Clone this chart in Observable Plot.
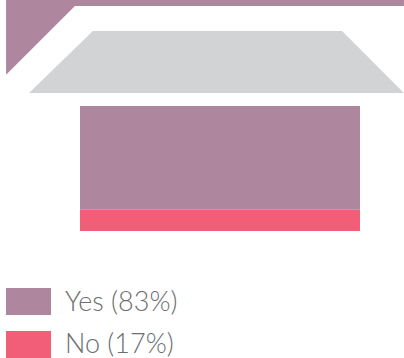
<!DOCTYPE html>
<html>
<head>
<meta charset="utf-8">
<script src="https://cdn.jsdelivr.net/npm/d3@7"></script>
<script src="https://cdn.jsdelivr.net/npm/@observablehq/plot@0.6"></script>
<style>
  html, body { margin: 0; padding: 0; background: #fff; overflow: hidden; }
  svg { display: block; }
  .legend { position: relative; height: 70px; font-family: Lato, sans-serif; font-weight: 300; font-size: 27px; color: #6d6e71; }
  .row { position: absolute; left: 6px; height: 27px; display: flex; align-items: center; }
  .row span { position: relative; top: -1px; }
  .row + .row span { top: -2px; }
  .swatch { width: 45px; height: 27px; margin-right: 14px; flex: none; }
</style>
</head>
<body>
<div id="chart"></div>
<script>
// Answer shares and their colours
const answers = ["No", "Yes"];
const shares = [17, 83];
const answerColors = ["#f25d78", "#ae879e"];
const legendOrder = [1, 0];

// Final funnel stage: answer bar spans the full 0-100 width
const barLeft = 0;
const barRight = 100;

// Funnel outline of the stage above the bar (grey)
const greyLevels = [160, 110.4];
const greyLeft = [4.6, -18.2];
const greyRight = [93.6, 115.7];

// Upper stage, running off the top of the frame
const upperLevels = [184.8, 180, 180, 125];
const upperLeft = [-26.4, -26.4, -26.4, -26.4];
const upperRight = [115.7, 115.7, -1.8, -26.4];

const svgHeight = 288;
const bars = answers.map((name, i) => ({name, share: shares[i]}));
const zip = (levels, left, right) => levels.map((y, i) => ({y, x1: left[i], x2: right[i]}));

const plot = Plot.plot({
  width: 404,
  height: svgHeight,
  margin: 0,
  x: {domain: [-28.57, 115.71], range: [0, 404], axis: null},
  y: {domain: [0, 100], range: [231, 106], axis: null},
  color: {domain: answers, range: answerColors},
  marks: [
    Plot.areaX(zip(upperLevels, upperLeft, upperRight), {
      x1: "x1", x2: "x2", y: "y", fill: answerColors[1], curve: "linear"
    }),
    Plot.areaX(zip(greyLevels, greyLeft, greyRight), {
      x1: "x1", x2: "x2", y: "y", fill: "#d1d3d4", curve: "linear"
    }),
    Plot.rectY(bars, Plot.stackY({
      x1: () => barLeft, x2: () => barRight, y: "share", fill: "name"
    }))
  ]
});
document.getElementById("chart").appendChild(plot);

// Legend below the plot
const legend = d3.select("#chart").append("div").attr("class", "legend");
legendOrder.forEach((idx, i) => {
  const row = legend.append("div").attr("class", "row").style("top", `${i * 43}px`);
  row.append("div").attr("class", "swatch").style("background", answerColors[idx]);
  row.append("span").text(`${answers[idx]} (${shares[idx]}%)`);
});
</script>
</body>
</html>
